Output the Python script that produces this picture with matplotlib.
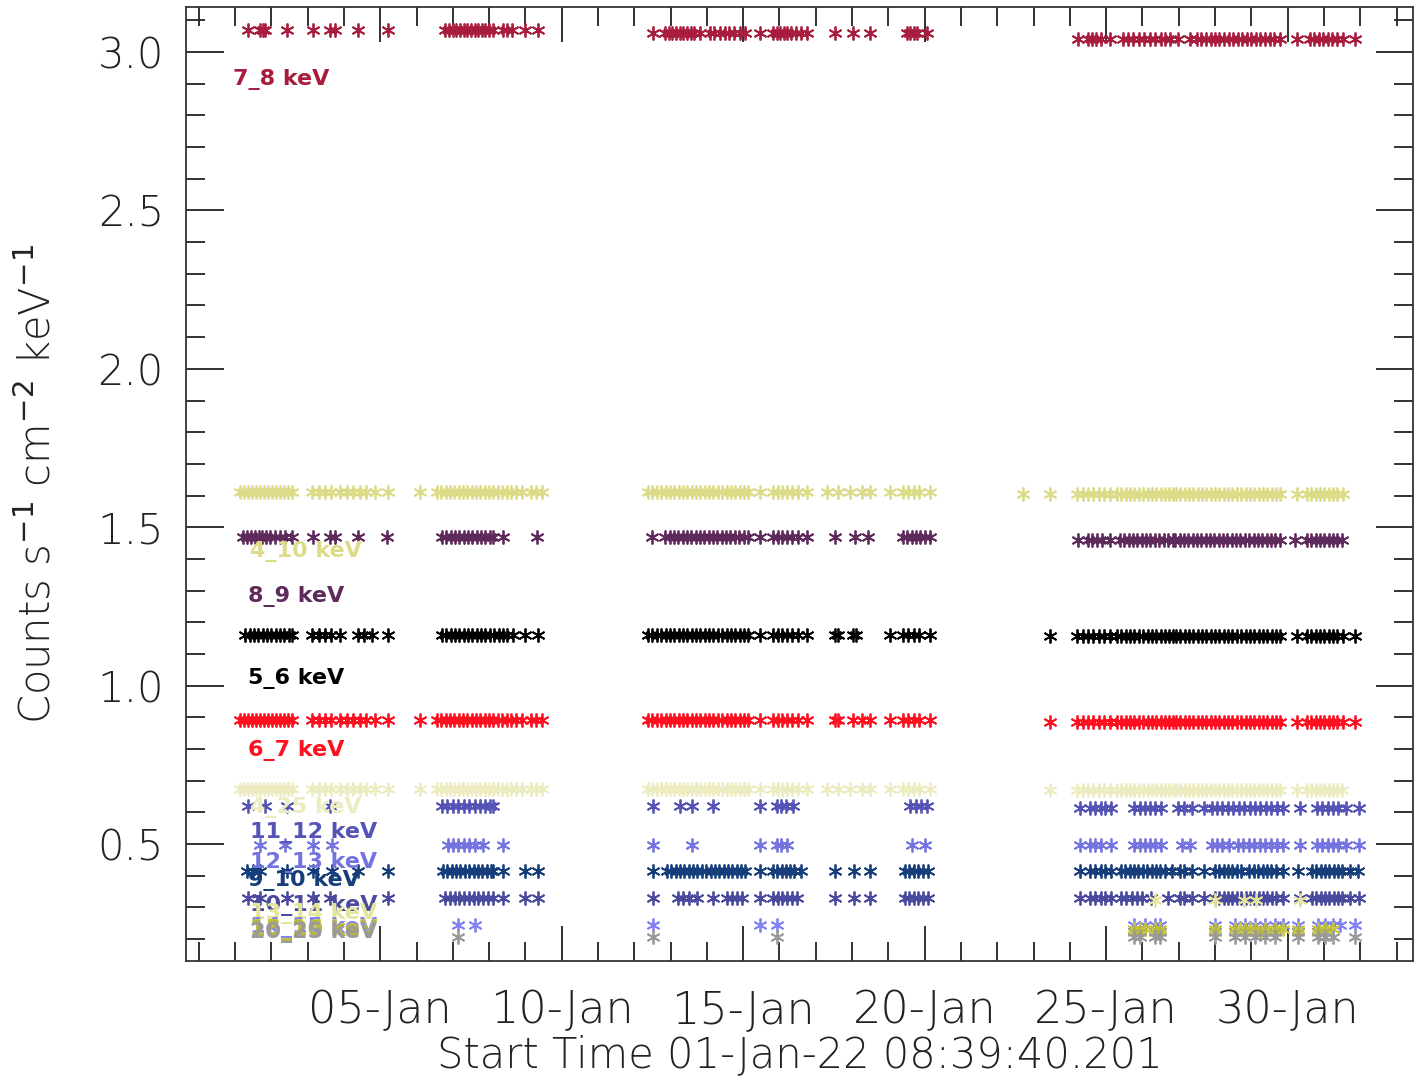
import numpy as np
import matplotlib
matplotlib.use('Agg')
import matplotlib.pyplot as plt
from matplotlib.ticker import FixedLocator, MultipleLocator

# times are in days since 01-Jan-22 00:00
tick_days = [4, 9, 14, 19, 24, 29]
tick_labels = ['05-Jan', '10-Jan', '15-Jan', '20-Jan', '25-Jan', '30-Jan']

t_7_8 = [0.36, 0.69, 0.76, 0.83, 1.43, 2.15, 2.62, 2.75, 3.39, 4.21,
         5.79, 5.90, 6.00, 6.10, 6.20, 6.30, 6.40, 6.50, 6.60, 6.70, 6.80, 6.90, 7.00, 7.11,
         7.38, 7.50, 7.63, 7.99, 8.35,
         11.52, 11.85, 11.95, 12.05, 12.15, 12.25, 12.35, 12.45, 12.55, 12.65, 12.81,
         13.09, 13.20, 13.35, 13.50, 13.62, 13.75, 13.90, 14.05, 14.46,
         14.82, 14.92, 15.02, 15.12, 15.22, 15.32, 15.45, 15.60, 15.76,
         16.53, 17.02, 17.49, 18.51, 18.60, 18.70, 18.79, 19.06,
         23.22, 23.50, 23.60, 23.72, 23.85, 24.10, 24.46, 24.60, 24.75, 24.90, 25.05,
         25.20, 25.35, 25.50, 25.62, 25.76, 25.98, 26.31, 26.50, 26.62, 26.75, 26.88,
         27.00, 27.12, 27.25, 27.38, 27.50, 27.62, 27.75, 27.88, 28.00, 28.12, 28.25,
         28.38, 28.50, 28.62, 28.79, 29.26, 29.61, 29.72, 29.85, 29.97, 30.10, 30.22,
         30.35, 30.52, 30.85]

t_4_10 = [0.14, 0.25, 0.36, 0.47, 0.58, 0.69, 0.80, 0.91, 1.02, 1.13, 1.24, 1.35, 1.46, 1.57,
          2.12, 2.30, 2.48, 2.65, 2.89, 3.09, 3.25, 3.45, 3.60, 3.86, 4.21, 5.10,
          5.56, 5.68, 5.80, 5.92, 6.04, 6.16, 6.28, 6.40, 6.52, 6.64, 6.76, 6.88, 7.00,
          7.12, 7.24, 7.36, 7.48, 7.60, 7.75, 7.90, 8.15, 8.30, 8.46,
          11.38, 11.50, 11.62, 11.74, 11.86, 11.98, 12.10, 12.22, 12.34, 12.46, 12.58,
          12.70, 12.82, 12.94, 13.06, 13.18, 13.30, 13.42, 13.54, 13.66, 13.78, 13.90,
          14.02, 14.13, 14.46, 14.82, 14.95, 15.08, 15.20, 15.34, 15.50, 15.76,
          16.31, 16.61, 16.94, 17.27, 17.49, 18.04, 18.40, 18.55, 18.70, 18.85, 19.15,
          21.71, 22.45, 23.20, 23.35, 23.50, 23.65, 23.80, 23.95, 24.10, 24.30, 24.42,
          24.54, 24.66, 24.78, 24.90, 25.02, 25.14, 25.26, 25.38, 25.50, 25.62, 25.74,
          25.84, 25.92, 26.04, 26.16, 26.28, 26.40, 26.52, 26.64, 26.76, 26.88, 27.00,
          27.12, 27.24, 27.36, 27.48, 27.60, 27.72, 27.84, 27.96, 28.08, 28.20, 28.32,
          28.44, 28.56, 28.68, 28.79, 29.26, 29.53, 29.65, 29.77, 29.89, 30.01, 30.13,
          30.25, 30.37, 30.52]

t_8_9 = [0.22, 0.33, 0.45, 0.55, 0.65, 0.75, 0.85, 0.96, 1.10, 1.24, 1.38, 1.57,
         2.15, 2.62, 2.75, 3.39, 4.19,
         5.70, 5.82, 5.94, 6.06, 6.18, 6.30, 6.42, 6.54, 6.66, 6.78, 6.90, 7.02, 7.11, 7.38, 8.33,
         11.49, 11.85, 11.97, 12.09, 12.21, 12.33, 12.45, 12.57, 12.69, 12.81, 12.93, 13.05,
         13.17, 13.29, 13.41, 13.53, 13.65, 13.77, 13.89, 14.01, 14.13, 14.46,
         14.82, 14.95, 15.08, 15.20, 15.34, 15.50, 15.76, 16.53, 17.08, 17.44,
         18.40, 18.52, 18.64, 18.76, 18.88, 19.01, 19.15,
         23.22, 23.50, 23.62, 23.75, 23.88, 24.10, 24.38, 24.50, 24.62, 24.74, 24.86,
         24.98, 25.10, 25.22, 25.34, 25.46, 25.58, 25.70, 25.84, 25.90, 26.02, 26.14,
         26.26, 26.38, 26.50, 26.62, 26.74, 26.86, 26.98, 27.10, 27.22, 27.34, 27.46,
         27.58, 27.70, 27.82, 27.94, 28.06, 28.18, 28.30, 28.42, 28.54, 28.66, 28.79,
         29.20, 29.53, 29.65, 29.77, 29.89, 30.01, 30.13, 30.25, 30.37, 30.50]

t_5_6 = [0.28, 0.40, 0.52, 0.64, 0.76, 0.88, 1.00, 1.12, 1.24, 1.36, 1.48, 1.57,
         2.12, 2.30, 2.48, 2.65, 2.89, 3.39, 3.55, 3.77, 4.21,
         5.70, 5.82, 5.94, 6.06, 6.18, 6.30, 6.42, 6.54, 6.66, 6.78, 6.90, 7.02,
         7.14, 7.26, 7.38, 7.50, 7.66, 7.99, 8.35,
         11.38, 11.50, 11.62, 11.74, 11.86, 11.98, 12.10, 12.22, 12.34, 12.46, 12.58,
         12.70, 12.82, 12.94, 13.06, 13.18, 13.30, 13.42, 13.54, 13.66, 13.78, 13.90,
         14.02, 14.13, 14.46, 14.82, 14.95, 15.08, 15.20, 15.34, 15.50, 15.76,
         16.53, 16.61, 17.02, 17.10, 18.04, 18.40, 18.55, 18.70, 18.85, 19.15,
         22.45, 23.20, 23.35, 23.50, 23.65, 23.80, 23.95, 24.10, 24.30, 24.42,
         24.54, 24.66, 24.78, 24.90, 25.02, 25.14, 25.26, 25.38, 25.50, 25.62, 25.74,
         25.84, 25.92, 26.04, 26.16, 26.28, 26.40, 26.52, 26.64, 26.76, 26.88, 27.00,
         27.12, 27.24, 27.36, 27.48, 27.60, 27.72, 27.84, 27.96, 28.08, 28.20, 28.32,
         28.44, 28.56, 28.68, 28.79, 29.26, 29.53, 29.65, 29.77, 29.89, 30.01, 30.13,
         30.25, 30.37, 30.52, 30.85]

t_6_7 = [0.14, 0.25, 0.36, 0.47, 0.58, 0.69, 0.80, 0.91, 1.02, 1.13, 1.24, 1.35, 1.46, 1.57,
         2.12, 2.30, 2.48, 2.65, 2.89, 3.09, 3.25, 3.45, 3.60, 3.86, 4.21, 5.10,
         5.56, 5.68, 5.80, 5.92, 6.04, 6.16, 6.28, 6.40, 6.52, 6.64, 6.76, 6.88, 7.00,
         7.12, 7.24, 7.36, 7.48, 7.60, 7.75, 7.90, 8.15, 8.30, 8.46,
         11.38, 11.50, 11.62, 11.74, 11.86, 11.98, 12.10, 12.22, 12.34, 12.46, 12.58,
         12.70, 12.82, 12.94, 13.06, 13.18, 13.30, 13.42, 13.54, 13.66, 13.78, 13.90,
         14.02, 14.13, 14.46, 14.82, 14.95, 15.08, 15.20, 15.34, 15.50, 15.76,
         16.53, 16.61, 17.02, 17.27, 17.49, 18.04, 18.40, 18.55, 18.70, 18.85, 19.15,
         22.45, 23.20, 23.35, 23.50, 23.65, 23.80, 23.95, 24.10, 24.30, 24.42,
         24.54, 24.66, 24.78, 24.90, 25.02, 25.14, 25.26, 25.38, 25.50, 25.62, 25.74,
         25.84, 25.92, 26.04, 26.16, 26.28, 26.40, 26.52, 26.64, 26.76, 26.88, 27.00,
         27.12, 27.24, 27.36, 27.48, 27.60, 27.72, 27.84, 27.96, 28.08, 28.20, 28.32,
         28.44, 28.56, 28.68, 28.79, 29.26, 29.53, 29.65, 29.77, 29.89, 30.01, 30.13,
         30.25, 30.37, 30.52, 30.85]

t_4_25 = [0.14, 0.25, 0.36, 0.47, 0.58, 0.69, 0.80, 0.91, 1.02, 1.13, 1.24, 1.35, 1.46, 1.57,
          2.12, 2.30, 2.48, 2.65, 2.89, 3.09, 3.25, 3.45, 3.60, 3.86, 4.21, 5.10,
          5.56, 5.68, 5.80, 5.92, 6.04, 6.16, 6.28, 6.40, 6.52, 6.64, 6.76, 6.88, 7.00,
          7.12, 7.24, 7.36, 7.48, 7.60, 7.75, 7.90, 8.15, 8.30, 8.46,
          11.38, 11.50, 11.62, 11.74, 11.86, 11.98, 12.10, 12.22, 12.34, 12.46, 12.58,
          12.70, 12.82, 12.94, 13.06, 13.18, 13.30, 13.42, 13.54, 13.66, 13.78, 13.90,
          14.02, 14.13, 14.46, 14.82, 14.95, 15.08, 15.20, 15.34, 15.50, 15.76,
          16.31, 16.61, 16.94, 17.27, 17.49, 18.04, 18.40, 18.55, 18.70, 18.85, 19.15,
          22.45, 23.20, 23.35, 23.50, 23.65, 23.80, 23.95, 24.10, 24.30, 24.42,
          24.54, 24.66, 24.78, 24.90, 25.02, 25.14, 25.26, 25.38, 25.50, 25.62, 25.74,
          25.84, 25.92, 26.04, 26.16, 26.28, 26.40, 26.52, 26.64, 26.76, 26.88, 27.00,
          27.12, 27.24, 27.36, 27.48, 27.60, 27.72, 27.84, 27.96, 28.08, 28.20, 28.32,
          28.44, 28.56, 28.68, 28.79, 29.26, 29.53, 29.65, 29.77, 29.89, 30.01, 30.13,
          30.25, 30.37, 30.50]

t_11_12 = [0.36, 0.83, 1.43, 2.62, 5.70, 5.85, 6.00, 6.15, 6.30, 6.45, 6.60, 6.75, 6.90,
           7.02, 7.11, 11.52, 12.26, 12.59, 13.17, 14.46, 14.93, 15.05, 15.18, 15.37,
           18.60, 18.75, 18.90, 19.06, 23.28, 23.55, 23.70, 23.85, 23.97, 24.13, 24.77,
           24.93, 25.07, 25.21, 25.34, 25.51, 25.98, 26.15, 26.36, 26.69, 26.91, 27.05,
           27.20, 27.35, 27.50, 27.65, 27.80, 27.95, 28.10, 28.25, 28.40, 28.55, 28.70,
           28.87, 29.34, 29.81, 29.95, 30.10, 30.25, 30.40, 30.61, 30.96]

t_12_13 = [0.69, 1.38, 2.15, 2.67, 5.87, 6.00, 6.15, 6.30, 6.45, 6.60, 6.83, 7.38,
           11.52, 12.59, 14.46, 14.93, 15.05, 15.21, 18.65, 19.01, 23.28, 23.55, 23.70,
           23.85, 24.13, 24.77, 24.93, 25.07, 25.21, 25.34, 25.51, 26.09, 26.31, 26.91,
           27.05, 27.20, 27.38, 27.63, 27.78, 27.93, 28.08, 28.23, 28.38, 28.53, 28.70,
           28.87, 29.34, 29.81, 29.95, 30.10, 30.25, 30.40, 30.61, 30.96]

t_9_10 = [0.33, 0.50, 0.69, 1.43, 2.15, 2.67, 3.39, 4.21, 5.73, 5.85, 5.97, 6.09, 6.21,
          6.33, 6.45, 6.57, 6.69, 6.81, 6.93, 7.05, 7.11, 7.38, 7.99, 8.35,
          11.52, 11.90, 12.02, 12.14, 12.26, 12.38, 12.50, 12.62, 12.74, 12.86, 12.98,
          13.10, 13.22, 13.34, 13.46, 13.58, 13.70, 13.82, 13.94, 14.05, 14.46, 14.82,
          14.94, 15.06, 15.18, 15.30, 15.40, 15.60, 16.53, 17.05, 17.49, 18.46, 18.58,
          18.70, 18.82, 18.95, 19.09, 23.28, 23.55, 23.70, 23.85, 23.97, 24.13, 24.41,
          24.53, 24.65, 24.77, 24.89, 25.01, 25.13, 25.25, 25.37, 25.49, 25.61, 25.81,
          26.03, 26.15, 26.36, 26.69, 27.00, 27.12, 27.24, 27.36, 27.48, 27.60, 27.72,
          27.93, 28.07, 28.19, 28.31, 28.43, 28.55, 28.67, 28.87, 29.28, 29.67, 29.79,
          29.91, 30.03, 30.15, 30.27, 30.39, 30.51, 30.72, 30.94]

t_10_11 = [0.36, 0.69, 1.43, 2.15, 2.62, 4.21, 5.79, 5.92, 6.05, 6.18, 6.31, 6.44, 6.57,
           6.70, 6.83, 6.96, 7.11, 7.38, 7.99, 8.35, 11.52, 12.20, 12.35, 12.50, 12.73,
           13.17, 13.55, 13.68, 13.83, 13.97, 14.46, 14.82, 14.95, 15.08, 15.21, 15.34,
           15.48, 16.53, 17.05, 17.49, 18.46, 18.58, 18.70, 18.82, 18.95, 19.09, 23.28,
           23.55, 23.70, 23.85, 23.97, 24.13, 24.41, 24.55, 24.70, 24.85, 25.00, 25.23,
           25.70, 26.03, 26.15, 26.36, 26.69, 27.00, 27.12, 27.24, 27.36, 27.48, 27.60,
           27.72, 27.84, 27.96, 28.08, 28.20, 28.32, 28.44, 28.56, 28.68, 28.87, 29.34,
           29.67, 29.79, 29.91, 30.03, 30.15, 30.27, 30.39, 30.51, 30.72, 30.96]

t_13_14 = [25.34, 27.00, 27.80, 28.12, 29.34]
t_14_15 = [6.14, 6.61, 11.52, 14.46, 14.93, 24.77, 25.07, 25.34, 25.48, 27.00, 27.55,
           27.82, 28.10, 28.37, 28.65, 28.87, 29.28, 29.83, 30.03, 30.25, 30.44, 30.85]
t_15_16 = [24.77, 24.93, 25.07, 25.34, 25.48, 27.00, 27.55, 27.70, 27.82, 27.96, 28.10,
           28.37, 28.65, 28.87, 29.28, 29.83, 30.03, 30.25]
t_16_20 = [24.77, 24.93, 25.34, 25.48, 27.00, 27.55, 27.82, 28.10, 28.24, 28.37, 28.65,
           29.28, 29.83, 30.03]
t_20_25 = [6.14, 11.52, 14.93, 24.77, 24.93, 25.34, 25.48, 27.00, 27.55, 27.82, 28.10,
           28.37, 28.65, 29.28, 29.83, 30.03, 30.25, 30.85]

# flux level in the three observing blocks (before 10-Jan, 10-20 Jan, after 20-Jan)
lev_7_8 = [3.07, 3.06, 3.04]
lev_4_10 = [1.611, 1.611, 1.606]
lev_8_9 = [1.469, 1.469, 1.460]
lev_5_6 = [1.160, 1.160, 1.157]
lev_6_7 = [0.891, 0.891, 0.886]
lev_4_25 = [0.673, 0.673, 0.670]
lev_11_12 = [0.620, 0.620, 0.615]
lev_12_13 = [0.497, 0.497, 0.497]
lev_9_10 = [0.415, 0.415, 0.415]
lev_10_11 = [0.330, 0.330, 0.330]
lev_13_14 = [0.325, 0.325, 0.325]
lev_14_15 = [0.245, 0.245, 0.245]
lev_15_16 = [0.233, 0.233, 0.233]
lev_16_20 = [0.222, 0.222, 0.222]
lev_20_25 = [0.207, 0.207, 0.207]

bands = ['7_8 keV', '4_10 keV', '8_9 keV', '5_6 keV', '6_7 keV', '4_25 keV',
         '11_12 keV', '12_13 keV', '9_10 keV', '10_11 keV', '13_14 keV',
         '14_15 keV', '15_16 keV', '16_20 keV', '20_25 keV']
times = [t_7_8, t_4_10, t_8_9, t_5_6, t_6_7, t_4_25, t_11_12, t_12_13, t_9_10,
         t_10_11, t_13_14, t_14_15, t_15_16, t_16_20, t_20_25]
levels = [lev_7_8, lev_4_10, lev_8_9, lev_5_6, lev_6_7, lev_4_25, lev_11_12, lev_12_13,
          lev_9_10, lev_10_11, lev_13_14, lev_14_15, lev_15_16, lev_16_20, lev_20_25]
colors = ['#a81c3e', '#dcdc88', '#5e2a5c', '#000000', '#ff1020', '#ececc0',
          '#5553b5', '#7474e0', '#163e7a', '#4a4a9e', '#e4e49a',
          '#8282f2', '#c8c83a', '#b4b448', '#9a9a9a']
# label anchor (day, y) of each band name
label_x = [-0.05, 0.41, 0.36, 0.36, 0.36, 0.41, 0.41, 0.41, 0.36, 0.41, 0.41,
           0.41, 0.41, 0.41, 0.41]
label_y = [2.912, 1.422, 1.280, 1.024, 0.797, 0.614, 0.538, 0.443, 0.386, 0.307,
           0.282, 0.238, 0.232, 0.226, 0.220]

# IDL-like asterisk (psym=2)
ast = (6, 2, 0)

fig = plt.figure(figsize=(14.2, 10.78), dpi=100)
ax = fig.add_axes([0.131, 0.1085, 0.864, 0.885])

for name, t, lev, c in zip(bands, times, levels, colors):
    t = np.array(t)
    y = np.where(t < 10, lev[0], np.where(t < 20, lev[1], lev[2]))
    ax.plot(t, y, linestyle='none', marker=ast, markersize=10, mew=1.3,
            color=c, zorder=2)

for name, x, y, c in zip(bands, label_x, label_y, colors):
    ax.text(x, y, name, color=c, fontsize=16, fontweight='bold', va='center',
            ha='left', zorder=3)

ax.set_xlim(-1.35, 32.45)
ax.set_ylim(0.131, 3.142)

ax.xaxis.set_major_locator(FixedLocator(tick_days))
ax.xaxis.set_minor_locator(MultipleLocator(1))
ax.set_xticklabels(tick_labels)
ax.yaxis.set_major_locator(MultipleLocator(0.5))
ax.yaxis.set_minor_locator(MultipleLocator(0.1))
ax.yaxis.set_major_formatter(plt.FuncFormatter(lambda v, p: '%.1f' % v))

ax.tick_params(which='both', direction='in', top=True, right=True, width=1.3,
               color='#222222')
ax.tick_params(axis='y', which='major', length=27, labelsize=30, pad=16)
ax.tick_params(axis='y', which='minor', length=14)
ax.tick_params(axis='x', which='major', length=25, labelsize=32, pad=20)
ax.tick_params(axis='x', which='minor', length=14)
for lab in ax.get_xticklabels() + ax.get_yticklabels():
    lab.set_fontweight('light')
    lab.set_color('#222222')
for s in ax.spines.values():
    s.set_linewidth(1.3)
    s.set_color('#333333')

ax.set_xlabel('Start Time 01-Jan-22 08:39:40.201', fontsize=30, fontweight='light',
              color='#222222', labelpad=2)
ax.set_ylabel('Counts s$^{-1}$ cm$^{-2}$ keV$^{-1}$', fontsize=30, fontweight='light',
              color='#222222', labelpad=28)

plt.savefig('out.png', dpi=100)
